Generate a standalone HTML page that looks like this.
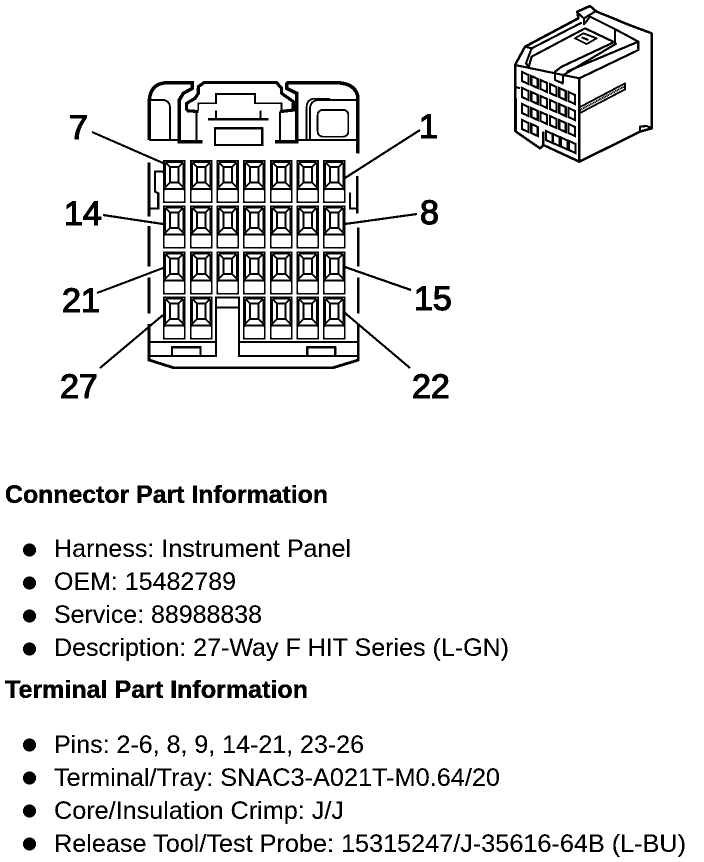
<!DOCTYPE html>
<html><head><meta charset="utf-8"><style>
html,body{margin:0;padding:0;background:#fff}
svg{display:block}
text{font-family:"Liberation Sans",sans-serif;fill:#000}
.b{font-weight:bold;font-size:25px;stroke:#000;stroke-width:.25px}
.t{font-size:25px}
.n{font-size:34px;stroke:#000;stroke-width:1.1px}
</style></head><body>
<svg width="704" height="862" viewBox="0 0 704 862" xmlns="http://www.w3.org/2000/svg">
<defs>
<filter id="bin" x="0" y="0" width="100%" height="100%" color-interpolation-filters="sRGB">
<feComponentTransfer><feFuncR type="discrete" tableValues="0 0 1"/><feFuncG type="discrete" tableValues="0 0 1"/><feFuncB type="discrete" tableValues="0 0 1"/></feComponentTransfer>
</filter>
<g id="c" fill="none" stroke="#000">
<rect x=".75" y=".75" width="21" height="41.5" stroke-width="1.8"/>
<path d="M2.5 2.5H20M2.5 2.5V26M20 2.5V26M2.5 2.5L7.5 7.5M20 2.5L15 7.5" stroke-width="1.3"/>
<rect x="7" y="7" width="8.5" height="15.5" stroke-width="2"/>
<path d="M1.5 28L7 22.5M21 28L15.5 22.5" stroke-width="1.5"/>
<path d="M1 29H22" stroke-width="2.2"/>
</g>
<polygon id="h" points="0,0 6.5,3 6.5,12 0,9" fill="#fff" stroke="#000" stroke-width="2"/>
</defs>
<g filter="url(#bin)">
<rect width="704" height="862" fill="#fff"/>

<g transform="translate(130,70) scale(.33333)" fill="none" stroke="#000" stroke-width="6">
<path d="M58 210V90Q62 40 110 38H187V55L160 70L148 90V215H218" stroke-width="10"/>
<path d="M58 90H100Q120 92 120 115V210M58 210H148" stroke-width="5"/>
<path d="M170 122V100L195 85L205 70V50L222 38H440L455 55V70L490 95V120L450 125M170 122L205 125" stroke-width="9"/>
<path d="M205 122V100H258V72H375V100H455V122" stroke-width="5"/>
<path d="M200 125V212M450 125V212" stroke-width="5"/>
<path d="M258 122V148M392 122V148" stroke-width="5"/>
<path d="M235 148H415" stroke-width="8"/>
<rect x="255" y="175" width="142" height="50" stroke-width="6"/>
<path d="M470 38H620Q680 40 684 85V250M470 38V55L500 70V215H435" stroke-width="10"/>
<rect x="563" y="120" width="92" height="80" rx="15" stroke-width="5"/>
<path d="M540 210V115Q542 92 565 90H680M530 210V108Q532 88 552 86H600" stroke-width="5"/>
<path d="M500 210H685" stroke-width="5"/>
<path d="M57 278V440" stroke-width="8"/>
<path d="M100 305H75V365L85 370V415H62" stroke-width="6"/>
<path d="M682 318V430" stroke-width="8"/>
<path d="M660 368V415H682" stroke-width="6"/>
</g>
<g transform="translate(130,220) scale(.33333)" fill="none" stroke="#000" stroke-width="6">
<path d="M57 18V140M57 172V280M57 312V408V420L130 443H610L685 420V408V312M685 280V172M685 140V22" stroke-width="8"/>
<path d="M57 366H258M327 366H685" stroke-width="5"/>
<path d="M57 408H258V232H327V408H685" stroke-width="6"/>
<path d="M258 262H327" stroke-width="6"/>
<rect x="126" y="382" width="86" height="26" stroke-width="6"/>
<rect x="532" y="382" width="84" height="26" stroke-width="6"/>
</g>

<use href="#c" x="163" y="160"/><use href="#c" x="190" y="160"/><use href="#c" x="216.5" y="160"/><use href="#c" x="243" y="160"/><use href="#c" x="270" y="160"/><use href="#c" x="296.5" y="160"/><use href="#c" x="323" y="160"/>
<use href="#c" x="163" y="205.5"/><use href="#c" x="190" y="205.5"/><use href="#c" x="216.5" y="205.5"/><use href="#c" x="243" y="205.5"/><use href="#c" x="270" y="205.5"/><use href="#c" x="296.5" y="205.5"/><use href="#c" x="323" y="205.5"/>
<use href="#c" x="163" y="251.5"/><use href="#c" x="190" y="251.5"/><use href="#c" x="216.5" y="251.5"/><use href="#c" x="243" y="251.5"/><use href="#c" x="270" y="251.5"/><use href="#c" x="296.5" y="251.5"/><use href="#c" x="323" y="251.5"/>
<use href="#c" x="163" y="296.5"/><use href="#c" x="190" y="296.5"/><use href="#c" x="243" y="296.5"/><use href="#c" x="270" y="296.5"/><use href="#c" x="296.5" y="296.5"/><use href="#c" x="323" y="296.5"/>

<g stroke="#000" stroke-width="2" fill="none">
<path d="M92 132L163 163M103 215L163 224M97 293L163 268M100 368L163 315"/>
<path d="M420 130L345 178M417 214L345 224M411 290L345 267M410 368L345 313"/>
</g>

<text class="n" x="69" y="139">7</text>
<text class="n" x="64" y="225">14</text>
<text class="n" x="62" y="312">21</text>
<text class="n" x="60" y="398">27</text>
<text class="n" x="419" y="138">1</text>
<text class="n" x="420" y="224">8</text>
<text class="n" x="414" y="310">15</text>
<text class="n" x="412" y="398">22</text>

<g transform="translate(500,0) scale(.33333)" fill="none" stroke="#000" stroke-width="6" stroke-linejoin="round">
<path d="M45 195L75 140L235 55L232 35L270 18L290 35L340 55L375 70L455 100V385L420 395L238 485L130 435L120 445L48 395Z" stroke-width="7"/>
<path d="M238 235V485" stroke-width="7"/>
<path d="M45 195L238 235"/>
<path d="M75 140L95 145L245 68M95 145L78 190L90 205M85 205L95 170L255 85L340 125"/>
<path d="M238 235L415 150V125L350 90L270 50L255 70"/>
<path d="M345 90V125L185 200L165 215V240L188 250L190 225L350 130M200 215L415 125"/>
<path d="M235 40L252 55L285 35M252 55V75"/>
<path d="M225 115L250 100L290 115L260 132Z" stroke-width="5"/>
<path d="M245 112L265 120" stroke-width="6"/>
<path d="M238 322L375 250V268L238 340Z" stroke-width="5"/>
<path d="M240 330L372 260" stroke-width="6" stroke-dasharray="3 2"/>
<path d="M45 260L60 265M45 260V395M130 395V435"/>
<path d="M420 395V380L440 378L455 385"/>
</g>
<g>
<use href="#h" x="522" y="72"/><use href="#h" x="531.3" y="76"/><use href="#h" x="540.6" y="80"/><use href="#h" x="549.9" y="84"/><use href="#h" x="559.2" y="88"/><use href="#h" x="568.5" y="92"/>
<use href="#h" x="522" y="88"/><use href="#h" x="531.3" y="92"/><use href="#h" x="540.6" y="96"/><use href="#h" x="549.9" y="100"/><use href="#h" x="559.2" y="104"/><use href="#h" x="568.5" y="108"/>
<use href="#h" x="522" y="104"/><use href="#h" x="531.3" y="108"/><use href="#h" x="540.6" y="112"/><use href="#h" x="549.9" y="116"/><use href="#h" x="559.2" y="120"/><use href="#h" x="568.5" y="124"/>
<use href="#h" x="522" y="120"/><use href="#h" x="531.3" y="124"/><use href="#h" x="546" y="131"/><use href="#h" x="553" y="134"/><use href="#h" x="561" y="137.5"/><use href="#h" x="569" y="141"/>
</g>

<text class="b" x="5" y="503" textLength="323" lengthAdjust="spacingAndGlyphs">Connector Part Information</text>
<text class="t" x="54" y="557" textLength="297" lengthAdjust="spacingAndGlyphs">Harness: Instrument Panel</text>
<text class="t" x="54" y="590" textLength="182" lengthAdjust="spacingAndGlyphs">OEM: 15482789</text>
<text class="t" x="54" y="623" textLength="208" lengthAdjust="spacingAndGlyphs">Service: 88988838</text>
<text class="t" x="54" y="656" textLength="455" lengthAdjust="spacingAndGlyphs">Description: 27-Way F HIT Series (L-GN)</text>
<text class="b" x="5" y="698" textLength="303" lengthAdjust="spacingAndGlyphs">Terminal Part Information</text>
<text class="t" x="54" y="753" textLength="310" lengthAdjust="spacingAndGlyphs">Pins: 2-6, 8, 9, 14-21, 23-26</text>
<text class="t" x="54" y="786" textLength="446" lengthAdjust="spacingAndGlyphs">Terminal/Tray: SNAC3-A021T-M0.64/20</text>
<text class="t" x="54" y="819" textLength="290" lengthAdjust="spacingAndGlyphs">Core/Insulation Crimp: J/J</text>
<text class="t" x="54" y="852" textLength="632" lengthAdjust="spacingAndGlyphs">Release Tool/Test Probe: 15315247/J-35616-64B (L-BU)</text>
<circle cx="29.5" cy="550" r="6.5"/><circle cx="29.5" cy="583" r="6.5"/><circle cx="29.5" cy="616" r="6.5"/><circle cx="29.5" cy="649" r="6.5"/>
<circle cx="29.5" cy="745" r="6.5"/><circle cx="29.5" cy="778" r="6.5"/><circle cx="29.5" cy="811" r="6.5"/><circle cx="29.5" cy="844" r="6.5"/>
</g>
</svg>
</body></html>
